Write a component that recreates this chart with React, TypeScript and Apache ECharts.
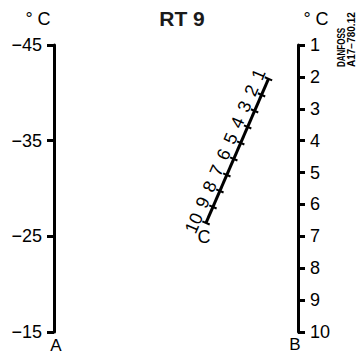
import React, { useEffect, useRef } from 'react';
import * as echarts from 'echarts';

// Scale A (left, °C), scale B (right, °C), scale C (slanted)
const scaleA = ['−45', '−35', '−25', '−15'];
const scaleB = ['1', '2', '3', '4', '5', '6', '7', '8', '9', '10'];
const scaleC = [1, 2, 3, 4, 5, 6, 7, 8, 9, 10];

// Slanted scale C end positions as fractions of the plot area (x from left, y from top)
const C_FIRST = [0.879, 0.118];
const C_LAST = [0.623, 0.62];

const FONT = 'Liberation Sans';

function cPoint(v: number): number[] {
  const t = (v - scaleC[0]) / (scaleC[scaleC.length - 1] - scaleC[0]);
  return [C_FIRST[0] + t * (C_LAST[0] - C_FIRST[0]), C_FIRST[1] + t * (C_LAST[1] - C_FIRST[1])];
}

export default function App() {
  const ref = useRef<HTMLDivElement>(null);
  useEffect(() => {
    document.body.style.margin = '0';
    const chart = echarts.init(ref.current!, null, { renderer: 'svg' });
    const axisCommon = {
      type: 'category' as const,
      boundaryGap: false,
      inverse: true,
      axisLine: { show: true, lineStyle: { color: '#000', width: 3 } },
      axisTick: { show: true, length: 7, lineStyle: { color: '#000', width: 3 } },
      axisLabel: { color: '#000', fontSize: 18, fontFamily: FONT, margin: 12 },
      splitLine: { show: false },
    };
    chart.setOption({
      animation: false,
      backgroundColor: '#fff',
      grid: { left: 54, right: 59, top: 45, bottom: 22 },
      xAxis: { type: 'value', min: 0, max: 1, show: false },
      yAxis: [
        { ...axisCommon, position: 'left', data: scaleA },
        { ...axisCommon, position: 'right', data: scaleB },
        { type: 'value', min: 0, max: 1, inverse: true, show: false },
      ],
      series: [
        {
          type: 'line',
          xAxisIndex: 0,
          yAxisIndex: 2,
          symbol: 'none',
          silent: true,
          lineStyle: { color: '#000', width: 3 },
          data: [cPoint(scaleC[0]), cPoint(scaleC[scaleC.length - 1])],
        },
        {
          type: 'custom',
          xAxisIndex: 0,
          yAxisIndex: 2,
          silent: true,
          data: scaleC.map((v) => [...cPoint(v), v]),
          renderItem: (params: any, api: any) => {
            const p = api.coord([api.value(0), api.value(1)]);
            const a = api.coord(cPoint(scaleC[scaleC.length - 1]));
            const b = api.coord(cPoint(scaleC[0]));
            const dx = b[0] - a[0];
            const dy = b[1] - a[1];
            const len = Math.sqrt(dx * dx + dy * dy);
            const ux = dx / len;
            const uy = dy / len;
            const nx = uy;
            const ny = -ux;
            const rot = Math.atan2(-dy, dx);
            return {
              type: 'group',
              children: [
                {
                  type: 'line',
                  shape: { x1: p[0] - nx * 4, y1: p[1] - ny * 4, x2: p[0] + nx * 4, y2: p[1] + ny * 4 },
                  style: { stroke: '#000', lineWidth: 2 },
                },
                {
                  type: 'text',
                  x: p[0] + nx * 11 + ux * 5,
                  y: p[1] + ny * 11 + uy * 5,
                  rotation: rot,
                  style: {
                    text: String(api.value(2)),
                    x: 0,
                    y: 0,
                    align: 'right',
                    verticalAlign: 'middle',
                    fill: '#000',
                    fontSize: 18,
                    fontFamily: FONT,
                  },
                },
              ],
            };
          },
        },
      ],
      graphic: [
        { type: 'text', x: 182, y: 18, style: { text: 'RT 9', align: 'center', verticalAlign: 'middle', fill: '#1a1a1a', font: `bold 21px ${FONT}` } },
        { type: 'text', x: 38, y: 19, style: { text: '° C', align: 'center', verticalAlign: 'middle', fill: '#000', font: `18px ${FONT}` } },
        { type: 'text', x: 316, y: 19, style: { text: '° C', align: 'center', verticalAlign: 'middle', fill: '#000', font: `18px ${FONT}` } },
        { type: 'text', x: 56, y: 345, style: { text: 'A', align: 'center', verticalAlign: 'middle', fill: '#000', font: `17px ${FONT}` } },
        { type: 'text', x: 295, y: 344, style: { text: 'B', align: 'center', verticalAlign: 'middle', fill: '#000', font: `17px ${FONT}` } },
        { type: 'text', x: 204, y: 237, style: { text: 'C', align: 'center', verticalAlign: 'middle', fill: '#000', font: `18px ${FONT}` } },
        {
          type: 'text',
          x: 342,
          y: 67,
          rotation: Math.PI / 2,
          scaleX: 0.8,
          style: { text: 'DANFOSS', align: 'left', verticalAlign: 'middle', fill: '#000', font: `bold 10px ${FONT}` },
        },
        {
          type: 'text',
          x: 351,
          y: 67,
          rotation: Math.PI / 2,
          style: { text: 'A17−780.12', align: 'left', verticalAlign: 'middle', fill: '#000', font: `bold 10px ${FONT}` },
        },
      ],
    });
    return () => chart.dispose();
  }, []);
  return <div ref={ref} style={{ width: 357, height: 354 }} />;
}
